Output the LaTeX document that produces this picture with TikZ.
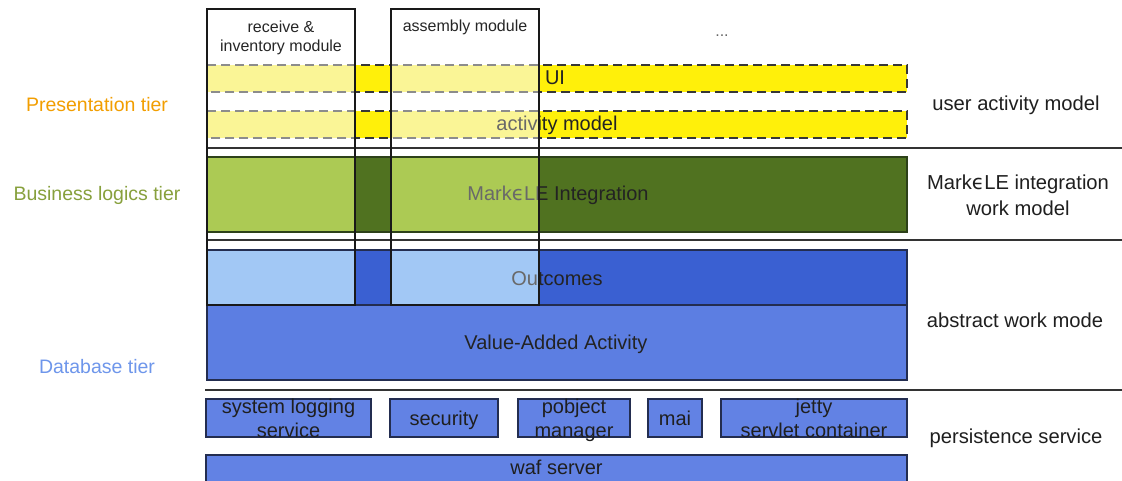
\documentclass[tikz,border=0pt]{standalone}
\usepackage{fontspec}
\setmainfont{Liberation Sans}
\newfontfamily\symf{DejaVu Sans}
% band colours: d = plain band, l = band seen through a module column
\definecolor{dUI}{RGB}{255,240,10}
\definecolor{lUI}{RGB}{250,245,150}
\definecolor{dGR}{RGB}{80,114,32}
\definecolor{lGR}{RGB}{172,202,84}
\definecolor{dOC}{RGB}{58,96,210}
\definecolor{lOC}{RGB}{162,200,245}
\definecolor{dDash}{RGB}{55,55,55}
\definecolor{lDash}{RGB}{140,140,140}
\definecolor{dTxt}{RGB}{35,35,35}
\definecolor{lTxt}{RGB}{105,105,105}
\definecolor{vaBlue}{RGB}{92,126,226}
\definecolor{svcBlue}{RGB}{98,130,228}
\definecolor{navy}{RGB}{35,45,80}
\definecolor{grEdge}{RGB}{45,65,25}
\definecolor{presCol}{RGB}{242,158,0}
\definecolor{busCol}{RGB}{135,160,60}
\definecolor{dbCol}{RGB}{110,150,235}

% the tiers that the module columns run across
\newcommand\tierbands[1]{%
  \fill[#1UI] (207,65) rectangle (907,92);
  \fill[#1UI] (207,111) rectangle (907,138);
  \draw[dashline,#1Dash] (207,65) -- (907,65) -- (907,92) -- (207,92);
  \draw[dashline,#1Dash] (207,111) -- (907,111) -- (907,138) -- (207,138);
  \fill[#1GR] (207,157) rectangle (907,232);
  \fill[#1OC] (207,250) rectangle (907,305);
  \node[bandtxt,text=#1Txt] (ui#1) at (555,85) {UI};
  \node[bandtxt,text=#1Txt] (act#1) at (557,131) {activity model};
  \node[bandtxt,text=#1Txt] (mle#1) at (558,201) {Mark{\symf ϵ}LE Integration};
  \node[bandtxt,text=#1Txt] (out#1) at (557,285) {Outcomes};
}

\begin{document}
\begin{tikzpicture}[x=1pt,y=-1pt,
  bandtxt/.style={font=\fontsize{20}{23}\selectfont, inner sep=0pt, anchor=base},
  sidetxt/.style={font=\fontsize{20.2}{23}\selectfont, inner sep=0pt, anchor=base, text=black!88},
  tiertxt/.style={font=\fontsize{19.5}{22}\selectfont, inner sep=0pt, anchor=base},
  modtxt/.style={font=\fontsize{16}{19}\selectfont, inner sep=0pt, anchor=base, text=black!85},
  svctxt/.style={font=\fontsize{20}{23}\selectfont, inner sep=0pt, anchor=base, text=black!88},
  dashline/.style={line width=1.5pt, dash pattern=on 9pt off 5pt},
  sepline/.style={line width=1.4pt, draw=black!80},
  modbox/.style={draw=black!90, line width=1.4pt, inner sep=0pt},
  svcbox/.style={draw=navy, fill=svcBlue, line width=1.4pt, inner sep=0pt}
]
\useasboundingbox[fill=white] (0,0) rectangle (1122,481);

% value-added activity layer
\node[draw=navy, fill=vaBlue, line width=1.2pt, minimum width=700pt, minimum height=75pt, inner sep=0pt] (va) at (557,342.5) {};
\node[bandtxt,text=dTxt] (vaTxt) at (556,349) {Value-Added Activity};

% tiers, then the lighter parts inside the two module columns
\tierbands{d}
\begin{scope}
  \clip (207,9) rectangle (355,305) (391,9) rectangle (539,305);
  \tierbands{l}
\end{scope}
\draw[grEdge, line width=1.2pt] (207,157) rectangle (907,232);
\draw[navy, line width=1.2pt] (207,250) rectangle (907,305);

% horizontal separators between the model levels
\coordinate (s1a) at (207,148); \coordinate (s1b) at (1122,148);
\coordinate (s2a) at (207,240); \coordinate (s2b) at (1122,240);
\coordinate (s3a) at (205,390); \coordinate (s3b) at (1122,390);
\draw[sepline] (s1a) -- (s1b);
\draw[sepline] (s2a) -- (s2b);
\draw[sepline] (s3a) -- (s3b);

% module columns
\node[modbox, minimum width=148pt, minimum height=296pt] (recv) at (281,157) {};
\node[modbox, minimum width=148pt, minimum height=296pt] (asm) at (465,157) {};
\node[modtxt] (recvA) at (281,33) {receive \&};
\node[modtxt] (recvB) at (281,52) {inventory module};
\node[modtxt] (asmA) at (465,32) {assembly module};
\node[modtxt, text=black!60] (more) at (722,37) {...};

% tier names
\node[tiertxt, text=presCol] (pres) at (97,112) {Presentation tier};
\node[tiertxt, text=busCol] (bus) at (97,201) {Business logics tier};
\node[tiertxt, text=dbCol] (db) at (97,373) {Database tier};

% model level names
\node[sidetxt] (uam) at (1016,111) {user activity model};
\node[sidetxt] (mwmA) at (1018,190) {Mark{\symf ϵ}LE integration};
\node[sidetxt] (mwmB) at (1018,216) {work model};
\node[sidetxt] (awm) at (1015,327) {abstract work mode};
\node[sidetxt] (ps) at (1016,443) {persistence service};

% persistence services
\node[svcbox, minimum width=165pt, minimum height=38pt] (sys) at (288.5,418) {};
\node[svcbox, minimum width=108pt, minimum height=38pt] (sec) at (444,418) {};
\node[svcbox, minimum width=112pt, minimum height=38pt] (pobj) at (574,418) {};
\node[svcbox, minimum width=54pt, minimum height=38pt] (mail) at (675,418) {};
\node[svcbox, minimum width=186pt, minimum height=38pt] (jetty) at (814,418) {};
\node[svcbox, minimum width=701pt, minimum height=32pt] (waf) at (556.5,471) {};

\node[svctxt] (sysA) at (288.5,413) {system logging};
\node[svctxt] (sysB) at (288.5,437) {service};
\node[svctxt] (secA) at (444,425) {security};
\node[svctxt] (pobjA) at (574,413) {pobject};
\node[svctxt] (pobjB) at (574,437) {manager};
\node[svctxt] (mailA) at (675,425) {mai};
\node[svctxt] (jettyA) at (814,413) {jetty};
\node[svctxt] (jettyB) at (814,437) {servlet container};
\node[svctxt] (wafA) at (556.5,474) {waf server};
\end{tikzpicture}
\end{document}
